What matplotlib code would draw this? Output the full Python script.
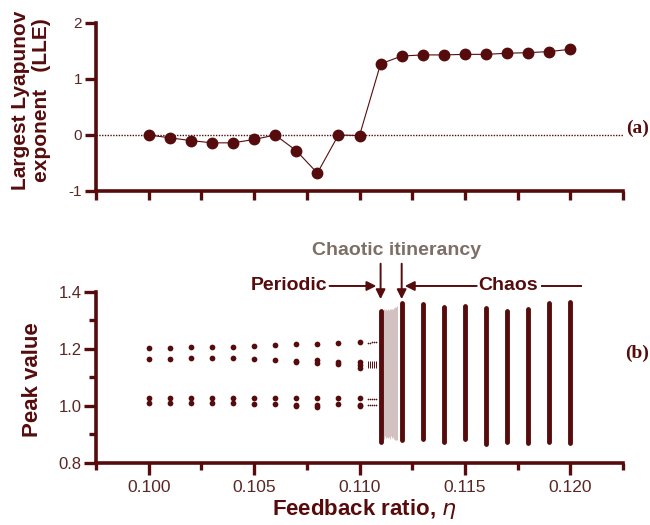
import matplotlib.pyplot as plt
from matplotlib.ticker import FixedLocator

# top panel: largest Lyapunov exponent
lle_eta = [0.100, 0.101, 0.102, 0.103, 0.104, 0.105, 0.106, 0.107, 0.108, 0.109, 0.110,
           0.111, 0.112, 0.113, 0.114, 0.115, 0.116, 0.117, 0.118, 0.119, 0.120]
lle = [0.0, -0.05, -0.10, -0.14, -0.14, -0.08, 0.0, -0.28, -0.68, 0.0, -0.01,
       1.27, 1.41, 1.43, 1.43, 1.44, 1.44, 1.46, 1.47, 1.49, 1.53]

# bottom panel: periodic peaks (four branches)
per_eta = [0.100, 0.101, 0.102, 0.103, 0.104, 0.105, 0.106, 0.107, 0.108, 0.109, 0.110]
per_p1 = [1.202, 1.202, 1.205, 1.206, 1.208, 1.211, 1.213, 1.216, 1.218, 1.222, 1.225]
per_p2 = [1.163, 1.165, 1.166, 1.166, 1.166, 1.165, 1.161, 1.158, 1.160, 1.155, 1.155]
per_p3 = [1.029, 1.029, 1.029, 1.029, 1.029, 1.029, 1.029, 1.027, 1.027, 1.027, 1.027]
per_p4 = [1.010, 1.010, 1.009, 1.009, 1.009, 1.008, 1.006, 1.004, 1.002, 1.005, 1.004]
extra_eta = [0.107, 0.108, 0.109, 0.110, 0.110, 0.107, 0.108, 0.110]
extra_peak = [1.152, 1.149, 1.145, 1.143, 1.132, 1.001, 0.997, 0.999]

# fine sweep just before the transition
fine_eta = [0.1104, 0.1105, 0.1106, 0.1107, 0.1108]
fine_p1 = [1.222, 1.222, 1.223, 1.223, 1.224]
fine_p3 = [1.025, 1.025, 1.025, 1.025, 1.025]
fine_p4 = [1.004, 1.004, 1.004, 1.004, 1.004]
fine_mid_lo = [1.134, 1.134, 1.134, 1.134, 1.134]
fine_mid_hi = [1.158, 1.158, 1.158, 1.158, 1.158]

# chaotic itinerancy band
itin_eta = [0.11110, 0.11115, 0.11120, 0.11125, 0.11130, 0.11135, 0.11140, 0.11145,
            0.11150, 0.11155, 0.11160, 0.11165, 0.11170, 0.11175, 0.11180]
itin_lo = [0.890, 0.885, 0.895, 0.888, 0.892, 0.886, 0.890, 0.884,
           0.893, 0.887, 0.890, 0.885, 0.882, 0.880, 0.882]
itin_hi = [1.335, 1.338, 1.336, 1.340, 1.337, 1.339, 1.336, 1.340,
           1.338, 1.341, 1.339, 1.342, 1.345, 1.348, 1.350]

# chaos columns
chaos_eta = [0.111, 0.112, 0.113, 0.114, 0.115, 0.116, 0.117, 0.118, 0.119, 0.120]
chaos_lo = [0.875, 0.879, 0.885, 0.875, 0.885, 0.867, 0.873, 0.870, 0.873, 0.870]
chaos_hi = [1.333, 1.362, 1.356, 1.345, 1.350, 1.342, 1.333, 1.341, 1.362, 1.365]

dark = '#560c0c'
tickc = '#5a2626'
grayc = '#7d6e66'
sans = 'Liberation Sans'

fig = plt.figure(figsize=(6.5, 5.25), dpi=100)
ax1 = fig.add_axes([0.1477, 0.6362, 0.8108, 0.32])
ax2 = fig.add_axes([0.1477, 0.1181, 0.8108, 0.3263])

for ax in (ax1, ax2):
    ax.set_xlim(0.0975, 0.1225)
    for s in ('top', 'right'):
        ax.spines[s].set_visible(False)
    for s in ('left', 'bottom'):
        ax.spines[s].set_linewidth(2.6)
        ax.spines[s].set_color(dark)
        ax.spines[s].set_capstyle('projecting')

# ---- (a) ----
ax1.set_ylim(-1, 2)
ax1.axhline(0, color=dark, lw=1.0, ls=(0, (1, 1)), zorder=1)
ax1.plot(lle_eta, lle, color=dark, lw=0.8, marker='o', ms=7.5, mec=dark, mfc=dark, zorder=3)
ax1.xaxis.set_major_locator(FixedLocator([0.0975 + 0.0025 * i for i in range(11)]))
ax1.set_xticklabels([])
ax1.set_yticks([-1, 0, 1, 2])
ax1.set_yticklabels(['-1', '0', '1', '2'], family=sans, fontsize=11, color=tickc)
ax1.tick_params(axis='x', direction='out', length=6.5, width=2.4, color=dark)
ax1.tick_params(axis='y', direction='out', length=8, width=2.4, color=dark, pad=2)

# ---- (b) ----
ax2.set_ylim(0.8, 1.4)
for p in (per_p1, per_p2, per_p3, per_p4):
    ax2.scatter(per_eta, p, s=17, color=dark, lw=0, zorder=3)
ax2.scatter(extra_eta, extra_peak, s=17, color=dark, lw=0, zorder=3)
for p in (fine_p1, fine_p3, fine_p4):
    ax2.scatter(fine_eta, p, s=1.5, color=dark, lw=0, zorder=3)
ax2.vlines(fine_eta, fine_mid_lo, fine_mid_hi, color=dark, lw=0.7)
ax2.vlines(itin_eta, itin_lo, itin_hi, color='#b89c9c', lw=0.45, zorder=2)
ax2.vlines(chaos_eta, chaos_lo, chaos_hi, color=dark, lw=3.5, capstyle='round', zorder=3)

ax2.xaxis.set_major_locator(FixedLocator([0.100, 0.105, 0.110, 0.115, 0.120]))
ax2.xaxis.set_minor_locator(FixedLocator([0.0975, 0.1025, 0.1075, 0.1125, 0.1175, 0.1225]))
ax2.set_xticklabels(['0.100', '0.105', '0.110', '0.115', '0.120'], family=sans,
                    fontsize=12.5, color=tickc)
ax2.yaxis.set_major_locator(FixedLocator([0.8, 1.0, 1.2, 1.4]))
ax2.yaxis.set_minor_locator(FixedLocator([0.9, 1.1, 1.3]))
ax2.set_yticklabels(['0.8', '1.0', '1.2', '1.4'], family=sans, fontsize=12, color=tickc)
ax2.tick_params(axis='x', which='major', direction='out', length=8.5, width=2.4, color=dark, pad=4)
ax2.tick_params(axis='x', which='minor', direction='out', length=5, width=2.4, color=dark)
ax2.tick_params(axis='y', which='major', direction='out', length=8.5, width=2.4, color=dark, pad=2)
ax2.tick_params(axis='y', which='minor', direction='out', length=5, width=2.4, color=dark)

# annotations
arr = dict(arrowstyle='-|>', color=dark, lw=1.4, mutation_scale=14, shrinkA=0, shrinkB=0)
ax2.text(0.10668, 1.420, 'Periodic', family=sans, fontsize=14, fontweight='bold',
         color=dark, ha='center', va='center', clip_on=False)
ax2.annotate('', xy=(0.1108, 1.420), xytext=(0.10858, 1.420), arrowprops=arr,
             annotation_clip=False)
ax2.annotate('', xy=(0.111, 1.374), xytext=(0.111, 1.498), arrowprops=arr,
             annotation_clip=False)
ax2.annotate('', xy=(0.112, 1.374), xytext=(0.112, 1.498), arrowprops=arr,
             annotation_clip=False)
ax2.annotate('', xy=(0.11215, 1.420), xytext=(0.11556, 1.420), arrowprops=arr,
             annotation_clip=False)
ax2.text(0.11707, 1.420, 'Chaos', family=sans, fontsize=14, fontweight='bold',
         color=dark, ha='center', va='center', clip_on=False)
ax2.plot([0.11865, 0.1205], [1.420, 1.420], color=dark, lw=1.4, clip_on=False)
ax2.text(0.11174, 1.544, 'Chaotic itinerancy', family=sans, fontsize=14,
         fontweight='bold', color=grayc, ha='center', va='center', clip_on=False)

# axis titles and panel tags
fig.text(31 / 650, 1 - 100 / 525, 'Largest Lyapunov\nexponent   (LLE)', rotation=90,
         family=sans, fontsize=15, fontweight='bold', color=dark, ha='center',
         va='center', multialignment='center', linespacing=1.15)
fig.text(33 / 650, 1 - 380 / 525, 'Peak value', rotation=90, family=sans, fontsize=16,
         fontweight='bold', color=dark, ha='center', va='center')
fig.text(364 / 650, 1 - 509 / 525, 'Feedback ratio, $\\mathit{\\eta}$', family=sans,
         fontsize=16, fontweight='bold', color=dark, ha='center', va='center')
fig.text(0.998, 1 - 128 / 525, '(a)', family='Liberation Serif', fontsize=14,
         fontweight='bold', color=dark, ha='right', va='center')
fig.text(0.998, 1 - 353 / 525, '(b)', family='Liberation Serif', fontsize=14,
         fontweight='bold', color=dark, ha='right', va='center')

fig.savefig('out.png', dpi=100)
